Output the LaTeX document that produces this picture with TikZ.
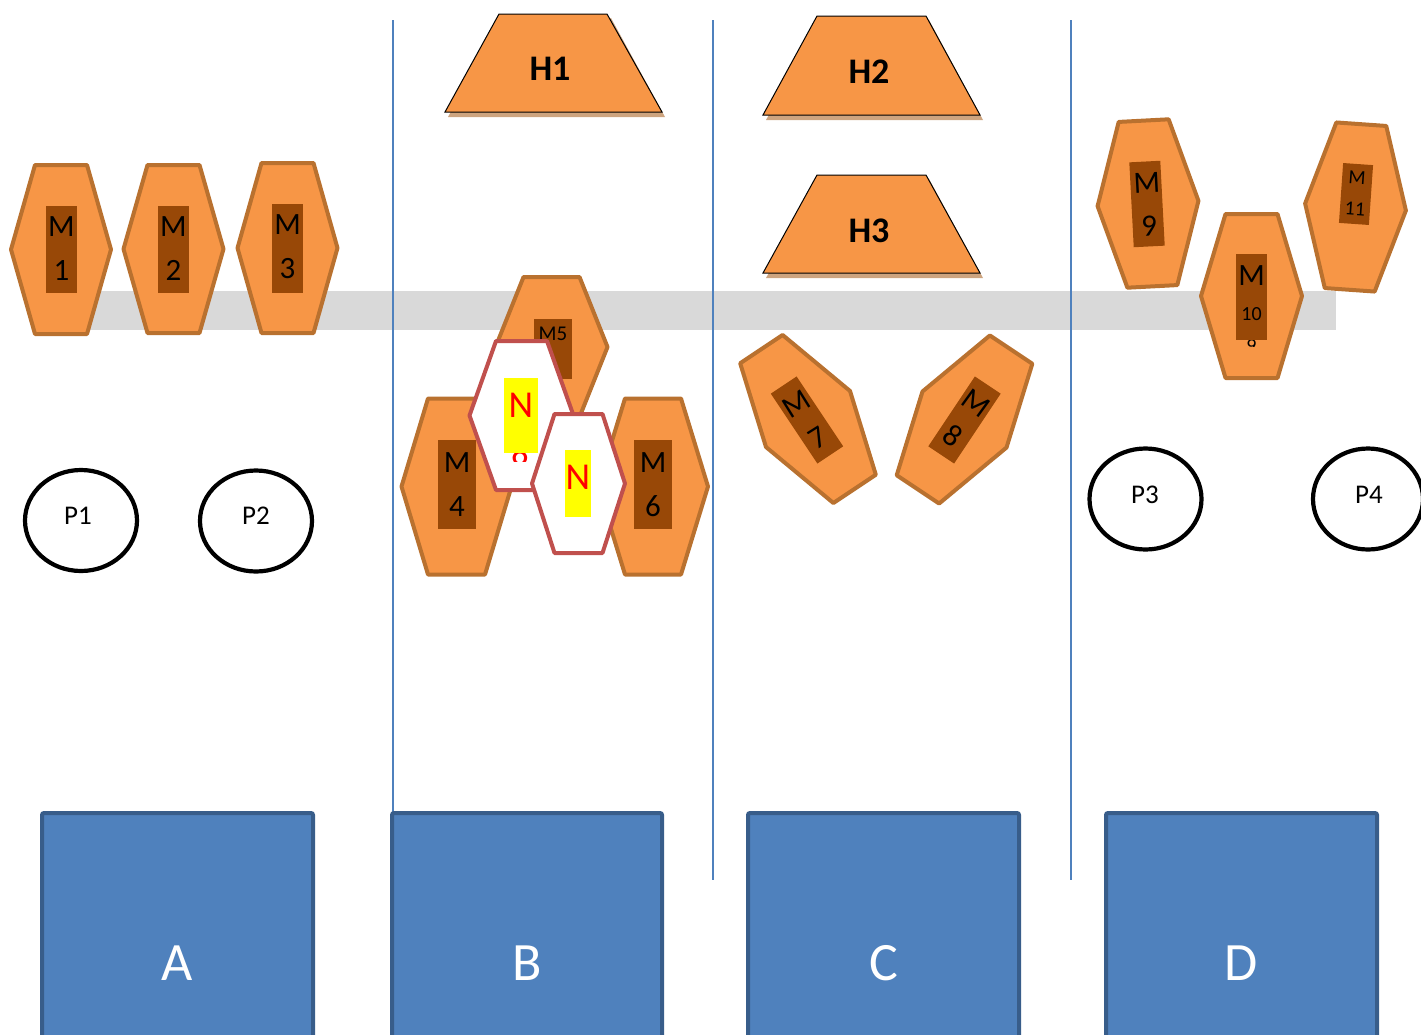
\documentclass[tikz,border=0pt]{standalone}
\usepackage{fontspec}
\setmainfont{Carlito}
\definecolor{hexfill}{HTML}{F79646}
\definecolor{hexline}{HTML}{B9712F}
\definecolor{innerc}{HTML}{984807}
\definecolor{nline}{HTML}{C0504D}
\definecolor{boxfill}{HTML}{4F81BD}
\definecolor{boxline}{HTML}{385D8A}
\definecolor{bandc}{HTML}{D9D9D9}
\definecolor{shadowc}{HTML}{CDA47F}
\definecolor{nyellow}{HTML}{FFFF00}
\definecolor{nred}{HTML}{FF0000}
\definecolor{vlinec}{HTML}{4F81BD}
\newcommand\HexPath[7]{\draw[#1,shift={(#2,#3)},rotate=#4] (-#5,0) -- (-#6,-#7) -- (#6,-#7) -- (#5,0) -- (#6,#7) -- (-#6,#7) -- cycle;}
\newcommand\RectPath[6]{\fill[#1,shift={(#2,#3)},rotate=#4] (-#5/2,-#6/2) rectangle (#5/2,#6/2);}
\begin{document}
\begin{tikzpicture}[x=1pt,y=-1pt,
  hexM/.style={fill=hexfill,draw=hexline,line width=4pt,line join=round},
  hexN/.style={fill=white,draw=nline,line width=4pt,line join=round},
  innerbox/.style={fill=innerc},
  mlab/.style={align=center,inner sep=0pt,text=black,font=\fontsize{31}{44}\selectfont},
  mlabr/.style={align=center,inner sep=0pt,text=black,font=\fontsize{31}{40}\selectfont},
  smalllab/.style={inner sep=0pt,text=black,font=\fontsize{20}{24}\selectfont},
  nlab/.style={inner sep=0pt,text=nred,font=\fontsize{38}{44}\selectfont},
  hlab/.style={inner sep=0pt,text=black,font=\fontsize{36}{40}\selectfont\bfseries},
  trap/.style={fill=hexfill,draw=black,line width=1pt,line join=miter},
  trapshadow/.style={fill=shadowc},
  pell/.style={draw=black,line width=4.2pt,fill=white},
  plab/.style={inner sep=0pt,text=black,font=\fontsize{27}{30}\selectfont},
  bigbox/.style={fill=boxfill,draw=boxline,line width=4pt,rounded corners=2pt},
  boxlab/.style={inner sep=0pt,text=white,font=\fontsize{54}{60}\selectfont},
  divider/.style={draw=vlinec,line width=1.8pt}]
\useasboundingbox (0,0) rectangle (1421,1034);

% grey band
\fill[bandc] (40,291) rectangle (1336,330);

% dividers
\coordinate (d1t) at (393,20); \coordinate (d1b) at (393,880);
\coordinate (d2t) at (713,20); \coordinate (d2b) at (713,880);
\coordinate (d3t) at (1071,20); \coordinate (d3b) at (1071,880);
\draw[divider] (d1t) -- (d1b);
\draw[divider] (d2t) -- (d2b);
\draw[divider] (d3t) -- (d3b);

% trapezoids
\fill[trapshadow] (502,18) -- (611,18) -- (665,117) -- (448,117) -- cycle;
\draw[trap] (499,14) -- (607,14) -- (662,112) -- (445,112) -- cycle;
\node[hlab] (h1) at (550,69) {H1};
\fill[trapshadow] (821,20) -- (929,20) -- (983,120) -- (766,120) -- cycle;
\draw[trap] (817,16) -- (926,16) -- (980,115) -- (763,115) -- cycle;
\node[hlab] (h2) at (869,72) {H2};
\fill[trapshadow] (821,179) -- (929,179) -- (983,278) -- (766,278) -- cycle;
\draw[trap] (817,175) -- (926,175) -- (980,273) -- (763,273) -- cycle;
\node[hlab] (h3) at (869,231) {H3};

% M1 - M3
\HexPath{hexM}{61}{249.5}{0}{50}{26}{84.5}
\RectPath{innerbox}{61.5}{249.5}{0}{31}{87}
\node[mlab] (m1) at (61.5,249) {M\\1};
\HexPath{hexM}{173.5}{249}{0}{50}{26}{84}
\RectPath{innerbox}{173.5}{249.5}{0}{31}{87}
\node[mlab] (m2) at (173.5,249) {M\\2};
\HexPath{hexM}{287.5}{248}{0}{50}{26}{85}
\RectPath{innerbox}{287.5}{248.5}{0}{31}{89}
\node[mlab] (m3) at (287.5,247) {M\\3};

% M5
\HexPath{hexM}{551.5}{347}{0}{56}{28}{70}
\RectPath{innerbox}{553}{349}{0}{38}{60}
\node[inner sep=0pt,text=black,font=\fontsize{21}{24}\selectfont] (m5) at (553,334) {M5};

% M4, M6
\HexPath{hexM}{456.5}{486.5}{0}{55}{28.5}{88}
\RectPath{innerbox}{457}{484.5}{0}{38}{89}
\node[mlab] (m4) at (457,484.5) {M\\4};
\HexPath{hexM}{653}{486.5}{0}{55}{28}{88}
\RectPath{innerbox}{653}{484.5}{0}{38}{89}
\node[mlab] (m6) at (653,484.5) {M\\6};

% N1
\HexPath{hexN}{521.5}{415.5}{0}{52}{25.5}{74.5}
\fill[nyellow] (504,378) rectangle (538,453);
\node[nlab] (n1) at (521,405) {N};
\begin{scope}
\clip (500,453) rectangle (542,461);
\node[nlab] (n1b) at (520,465) {8};
\end{scope}

% N2
\HexPath{hexN}{578.5}{483.5}{0}{46.5}{24}{69.5}
\fill[nyellow] (565,450) rectangle (591,517);
\node[nlab] (n2) at (578,477) {N};

% M7, M8
\HexPath{hexM}{808}{419}{33.7}{50.5}{25.5}{84}
\RectPath{innerbox}{807}{420}{33.7}{31}{84}
\node[mlabr,rotate=32] (m7) at (807,420.5) {M\\7};
\HexPath{hexM}{964.5}{419.5}{-33.7}{50.5}{25.5}{84}
\RectPath{innerbox}{964.5}{420}{-33.7}{31}{84}
\node[mlabr,rotate=-36] (m8) at (964.5,419.5) {M\\8};

% M9
\HexPath{hexM}{1148}{203.5}{3}{50.5}{25}{83}
\RectPath{innerbox}{1147}{204}{3}{31}{85}
\node[mlab,rotate=3] (m9) at (1148,204.5) {M\\9};

% M11
\HexPath{hexM}{1355.5}{207}{-4}{50.5}{25}{83}
\RectPath{innerbox}{1356}{194}{-4}{30}{60}
\node[smalllab,rotate=-4] (m11a) at (1357,178) {M};
\node[smalllab,rotate=-4] (m11b) at (1355,209) {11};

% M10
\HexPath{hexM}{1251.5}{296}{0}{50.5}{26}{82}
\RectPath{innerbox}{1251.5}{297}{0}{31}{86}
\node[inner sep=0pt,text=black,font=\fontsize{31}{36}\selectfont] (m10a) at (1251.5,276) {M};
\node[smalllab] (m10b) at (1251.5,314) {10};
\begin{scope}
\clip (1236,340) rectangle (1267,346);
\node[smalllab] (m10c) at (1251.5,346.5) {9};
\end{scope}

% ellipses
\draw[pell] (81,520.5) ellipse [x radius=56, y radius=50.5];
\node[plab] (p1) at (78,516) {P1};
\draw[pell] (256,521) ellipse [x radius=56, y radius=50.5];
\node[plab] (p2) at (256,516) {P2};
\draw[pell] (1145.5,499) ellipse [x radius=56, y radius=50.5];
\node[plab] (p3) at (1145,495) {P3};
\draw[pell] (1368,499) ellipse [x radius=55, y radius=50.5];
\node[plab] (p4) at (1369,495) {P4};

% bottom boxes
\draw[bigbox] (42,813) rectangle (313,1045);
\node[boxlab] (a) at (177,963) {A};
\draw[bigbox] (392,813) rectangle (662,1045);
\node[boxlab] (b) at (527,963) {B};
\draw[bigbox] (748,813) rectangle (1019,1045);
\node[boxlab] (c) at (884,963) {C};
\draw[bigbox] (1106,813) rectangle (1377,1045);
\node[boxlab] (d) at (1241,963) {D};
\end{tikzpicture}
\end{document}
